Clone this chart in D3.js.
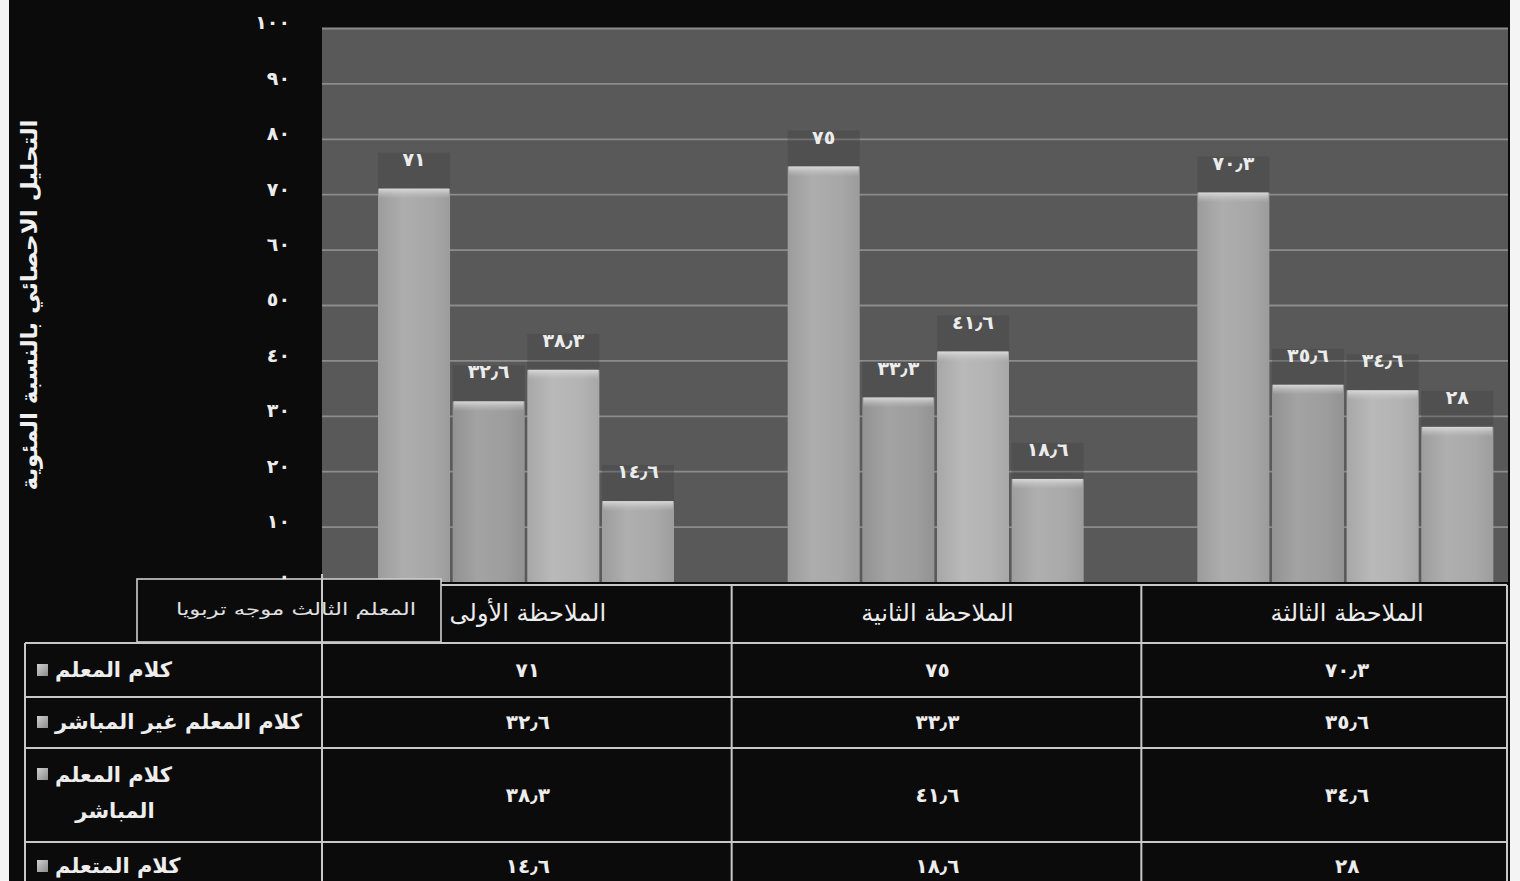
<!DOCTYPE html>
<html lang="ar">
<head>
<meta charset="utf-8">
<script src="https://cdn.jsdelivr.net/npm/d3@7"></script>
<style>
  html, body { margin: 0; padding: 0; background: #ffffff; }
  svg { display: block; }
  text { font-family: "DejaVu Sans", "Noto Sans", sans-serif; }
</style>
</head>
<body>
<svg id="chart" width="1520" height="881"></svg>
<script>
// Observations (categories) and the four talk measures, in percent
const categories = ["الملاحظة الأولى", "الملاحظة الثانية", "الملاحظة الثالثة"];
const seriesNames = ["كلام المعلم", "كلام المعلم غير المباشر", "كلام المعلم المباشر", "كلام المتعلم"];
const teacherTalk = [71, 75, 70.3];
const indirectTalk = [32.6, 33.3, 35.6];
const directTalk = [38.3, 41.6, 34.6];
const learnerTalk = [14.6, 18.6, 28];
const yTicks = [0, 10, 20, 30, 40, 50, 60, 70, 80, 90, 100];
const axisTitle = "التحليل الاحصائي بالنسبة المئوية";
const boxNote = "المعلم الثالث موجه تربويا";

const seriesValues = [teacherTalk, indirectTalk, directTalk, learnerTalk];
const barColors = ["#a7a7a7", "#9d9d9d", "#b3b3b3", "#a9a9a9"];

// Arabic-Indic digits with the Arabic decimal separator
const arDigits = "٠١٢٣٤٥٦٧٨٩";
const toArabic = v => String(v).replace(/[0-9]/g, d => arDigits[+d]).replace(".", "٫");

const svg = d3.select("#chart");
const W = 1520, H = 881;

// Layout
const plotLeft = 322, plotRight = 1508, plotTop = 28, plotBottom = 582;
const tableLeft = 25, tableRight = 1507;
const headerTop = 585;
const rowLines = [643, 697, 748, 842];
const rowCentres = [670, 722, 795, 866];

const x = d3.scaleBand().domain(categories).range([plotLeft, 1551]);
const xSub = d3.scaleBand().domain(seriesNames).range([56, 352]).paddingInner(0.035);
const y = d3.scaleLinear().domain([0, 100]).range([plotBottom, plotTop]);

// page background
svg.append("rect").attr("width", W).attr("height", H).attr("fill", "#0b0b0b");

// gradients for bars
const defs = svg.append("defs");
barColors.forEach((c, i) => {
  const g = defs.append("linearGradient").attr("id", "bar" + i)
    .attr("x1", "0").attr("x2", "1").attr("y1", "0").attr("y2", "0");
  const base = d3.color(c);
  g.append("stop").attr("offset", "0%").attr("stop-color", base.darker(0.2));
  g.append("stop").attr("offset", "35%").attr("stop-color", base.brighter(0.1));
  g.append("stop").attr("offset", "75%").attr("stop-color", base);
  g.append("stop").attr("offset", "100%").attr("stop-color", base.darker(0.2));
});
const capGrad = defs.append("linearGradient").attr("id", "capGrad")
  .attr("x1", "0").attr("x2", "0").attr("y1", "0").attr("y2", "1");
capGrad.append("stop").attr("offset", "0%").attr("stop-color", "#dedede").attr("stop-opacity", 0.9);
capGrad.append("stop").attr("offset", "100%").attr("stop-color", "#c4c4c4").attr("stop-opacity", 0);
const keyGrad = defs.append("linearGradient").attr("id", "keyGrad")
  .attr("x1", "0").attr("x2", "1").attr("y1", "0").attr("y2", "1");
keyGrad.append("stop").attr("offset", "0%").attr("stop-color", "#d0d0d0");
keyGrad.append("stop").attr("offset", "100%").attr("stop-color", "#8a8a8a");

const clip = defs.append("clipPath").attr("id", "plotClip");
clip.append("rect").attr("x", plotLeft).attr("y", 0).attr("width", plotRight - plotLeft).attr("height", plotBottom);

// plot area
svg.append("rect")
  .attr("x", plotLeft).attr("y", plotTop)
  .attr("width", plotRight - plotLeft).attr("height", plotBottom - plotTop)
  .attr("fill", "#595959");

// gridlines
svg.append("g")
  .attr("transform", `translate(${plotLeft},0)`)
  .call(d3.axisLeft(y).tickValues(yTicks.filter(t => t > 0)).tickSize(-(plotRight - plotLeft)).tickFormat(""))
  .call(g => g.select(".domain").remove())
  .call(g => g.selectAll("line").attr("stroke", "#8c8c8c").attr("stroke-width", 1.8));

// bars
const plot = svg.append("g").attr("clip-path", "url(#plotClip)");
const groups = plot.selectAll("g.cat")
  .data(categories)
  .join("g")
  .attr("class", "cat")
  .attr("transform", d => `translate(${x(d)},0)`);

const barData = ci => seriesNames.map((s, si) => ({ s, si, v: seriesValues[si][ci] }));

groups.each(function (c, ci) {
  const g = d3.select(this);
  const bars = barData(ci);

  // soft dark patch behind each value label
  g.selectAll("rect.lblbg").data(bars).join("rect")
    .attr("class", "lblbg")
    .attr("x", d => xSub(d.s))
    .attr("y", d => y(d.v) - 36)
    .attr("width", xSub.bandwidth())
    .attr("height", 36)
    .attr("fill", "#3a3a3a")
    .attr("opacity", 0.3);

  g.selectAll("rect.bar").data(bars).join("rect")
    .attr("class", "bar")
    .attr("x", d => xSub(d.s))
    .attr("y", d => y(d.v))
    .attr("width", xSub.bandwidth())
    .attr("height", d => y(0) - y(d.v))
    .attr("fill", d => `url(#bar${d.si})`);

  // lighter cap on top of each bar
  g.selectAll("rect.cap").data(bars).join("rect")
    .attr("class", "cap")
    .attr("x", d => xSub(d.s) + 1)
    .attr("y", d => y(d.v))
    .attr("width", xSub.bandwidth() - 2)
    .attr("height", 10)
    .attr("fill", "url(#capGrad)");

  g.selectAll("text.val").data(bars).join("text")
    .attr("class", "val")
    .attr("x", d => xSub(d.s) + xSub.bandwidth() / 2)
    .attr("y", d => y(d.v) - 23)
    .attr("text-anchor", "middle")
    .attr("font-size", 19)
    .attr("font-weight", "bold")
    .attr("fill", "#ececec")
    .text(d => toArabic(d.v));
});

// white border strips at both sides
svg.append("rect").attr("x", 0).attr("y", 0).attr("width", 9).attr("height", H).attr("fill", "#f4f4f4");
svg.append("rect").attr("x", 1510).attr("y", 0).attr("width", 10).attr("height", H).attr("fill", "#f4f4f4");

// note box at the corner of the table
svg.append("rect")
  .attr("x", 137).attr("y", 579).attr("width", 304).attr("height", 63)
  .attr("fill", "#0b0b0b").attr("stroke", "#cfcfcf").attr("stroke-width", 1.6);
svg.append("text")
  .attr("x", 416).attr("y", 615)
  .attr("text-anchor", "end")
  .attr("font-size", 17)
  .attr("textLength", 240)
  .attr("lengthAdjust", "spacingAndGlyphs")
  .attr("fill", "#e0e0e0")
  .text(boxNote);

// y axis tick labels
svg.append("g")
  .attr("transform", `translate(290,0)`)
  .call(d3.axisLeft(y).tickValues(yTicks).tickSize(0).tickPadding(0).tickFormat(toArabic))
  .call(g => g.select(".domain").remove())
  .call(g => g.selectAll("text")
    .attr("font-size", 19).attr("font-weight", "bold").attr("fill", "#ececec")
    .attr("font-family", "DejaVu Sans, sans-serif")
    .attr("dy", "0.05em"));

// y axis title
svg.append("text")
  .attr("transform", "translate(37,305) rotate(-90)")
  .attr("text-anchor", "middle")
  .attr("font-size", 23)
  .attr("font-weight", "bold")
  .attr("fill", "#f0f0f0")
  .text(axisTitle);

// data table
const lineCol = "#c8c8c8";
const table = svg.append("g").attr("stroke", lineCol).attr("stroke-width", 2);
table.append("line").attr("x1", 441).attr("x2", tableRight).attr("y1", headerTop).attr("y2", headerTop);
table.selectAll("line.row").data(rowLines).join("line")
  .attr("class", "row")
  .attr("x1", tableLeft).attr("x2", tableRight).attr("y1", d => d).attr("y2", d => d);
table.append("line").attr("x1", tableLeft).attr("x2", tableLeft).attr("y1", rowLines[0]).attr("y2", H);
table.append("line").attr("x1", plotLeft).attr("x2", plotLeft).attr("y1", 574).attr("y2", H);
table.selectAll("line.col").data(categories.slice(1)).join("line")
  .attr("class", "col")
  .attr("x1", d => x(d)).attr("x2", d => x(d)).attr("y1", headerTop).attr("y2", H);
table.append("line").attr("x1", tableRight).attr("x2", tableRight).attr("y1", headerTop).attr("y2", H);

// category headers
svg.selectAll("text.cat").data(categories).join("text")
  .attr("class", "cat")
  .attr("x", d => x(d) + x.bandwidth() / 2 + 1)
  .attr("y", 621)
  .attr("text-anchor", "middle")
  .attr("font-size", 24)
  .attr("fill", "#ededed")
  .text(d => d);

// series rows
seriesNames.forEach((s, si) => {
  const cy = rowCentres[si];
  svg.append("rect")
    .attr("x", 37).attr("y", (si === 2 ? cy - 27 : cy - 6)).attr("width", 11).attr("height", 12)
    .attr("fill", "url(#keyGrad)");
  if (si === 2) {
    const words = s.split(" ");
    svg.append("text").attr("x", 55).attr("y", cy - 13)
      .attr("font-size", 21).attr("font-weight", "bold").attr("fill", "#ededed")
      .text(words.slice(0, 2).join(" "));
    svg.append("text").attr("x", 115).attr("y", cy + 23).attr("text-anchor", "middle")
      .attr("font-size", 21).attr("font-weight", "bold").attr("fill", "#ededed")
      .text(words.slice(2).join(" "));
  } else {
    svg.append("text").attr("x", 55).attr("y", cy + 7)
      .attr("font-size", 21).attr("font-weight", "bold").attr("fill", "#ededed")
      .text(s);
  }
  svg.selectAll(null).data(categories).join("text")
    .attr("x", d => x(d) + x.bandwidth() / 2 + 1)
    .attr("y", cy + 7)
    .attr("text-anchor", "middle")
    .attr("font-size", 20)
    .attr("font-weight", "bold")
    .attr("fill", "#ededed")
    .text((d, ci) => toArabic(seriesValues[si][ci]));
});
</script>
</body>
</html>
